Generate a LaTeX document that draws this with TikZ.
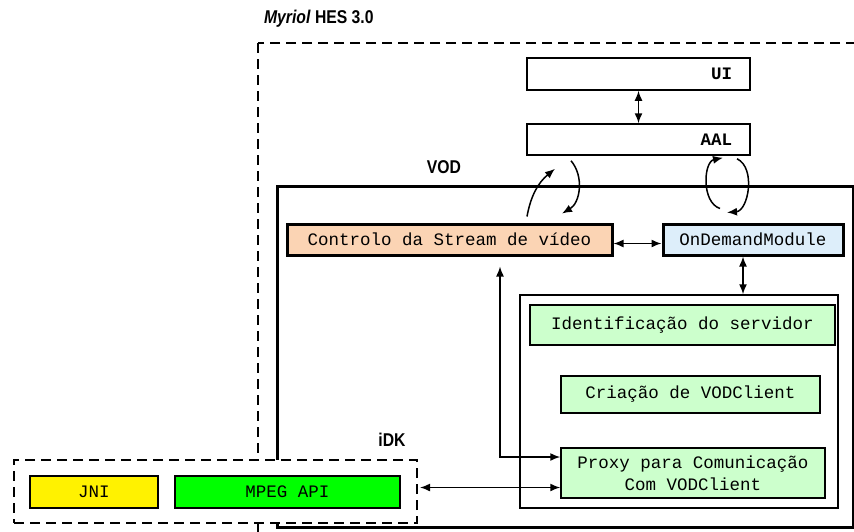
\documentclass[tikz,border=0pt]{standalone}
\usepackage{fontspec}
\setmonofont{Liberation Mono}
\newfontfamily\labelfont[FakeStretch=0.85]{Liberation Sans}
\usepackage{tikz}
\usetikzlibrary{arrows.meta}

\definecolor{ctrlfill}{RGB}{251,212,180}
\definecolor{odmfill}{RGB}{221,238,250}
\definecolor{srvfill}{RGB}{204,255,204}

\tikzset{
    box/.style={draw, line width=1.5pt, inner sep=0pt, align=center,
        font=\ttfamily\fontsize{17.5}{22}\selectfont},
    thickbox/.style={box, line width=3pt},
    layer/.style={box, text width=187pt, inner xsep=18pt, align=right,
        font=\ttfamily\bfseries\fontsize{17.5}{22}\selectfont},
    frame/.style={draw, dash pattern=on 10pt off 6pt, line width=2pt},
    tag/.style={font=\labelfont\bfseries\fontsize{18.5}{22}\selectfont},
    link/.style={{Latex[length=10pt,width=8pt]}-{Latex[length=10pt,width=8pt]}},
    arrowto/.style={-{Latex[length=10pt,width=8pt]}}
}

\begin{document}
\begin{tikzpicture}[x=1pt, y=-1pt, line width=1.5pt]
    \useasboundingbox (0,0) rectangle (854,531);
    \clip (0,0) rectangle (854,531);

    \draw[frame] (258,43) rectangle (880,560);
    \draw[line width=3pt] (277,186) rectangle (853,527);

    \node (title) [tag, anchor=west] at (260,18.5) {\textit{Myriol} HES 3.0};
    \node (vod) [tag] at (444,167) {VOD};
    \node (idklabel) [tag] at (392,440) {iDK};

    \node (ui) [layer, minimum height=32pt] at (638.5,74) {UI};
    \node (aal) [layer, minimum height=31pt] at (638.5,139.5) {AAL};

    \node (ctrl) [thickbox, fill=ctrlfill, minimum width=325pt, minimum height=31pt] at (449.5,239.5) {Controlo da Stream de vídeo};
    \node (odm) [thickbox, fill=odmfill, minimum width=180pt, minimum height=31pt] at (753,239.5) {OnDemandModule};

    \node (srv) [box, minimum width=318pt, minimum height=213pt] at (679,401.5) {};
    \node (ident) [box, fill=srvfill, minimum width=305pt, minimum height=40pt] at (682.5,325) {Identificação do servidor};
    \node (criacao) [box, fill=srvfill, minimum width=259pt, minimum height=37pt] at (690.5,394.5) {Criação de VODClient};
    \node (proxy) [box, fill=srvfill, minimum width=264pt, minimum height=50pt] at (693,473) {Proxy para Comunicação\\Com VODClient};

    \node (idk) [frame, fill=white, minimum width=403pt, minimum height=63pt] at (215.5,491.5) {};
    \node (jni) [box, fill=yellow, minimum width=128pt, minimum height=32pt] at (94,492) {JNI};
    \node (mpeg) [box, fill=green, minimum width=225pt, minimum height=32pt] at (287.5,492) {MPEG API};

    \coordinate (odmport) at ([xshift=-10pt]odm.south);
    \coordinate (ctrlport) at ([xshift=50.5pt,yshift=-10pt]ctrl.south);
    \coordinate (idkport) at ([xshift=2pt,yshift=4pt]idk.east);

    \draw[link] (ui) -- (aal);
    \draw[link] ([yshift=-4pt]ctrl.east) -- ([yshift=-4pt]odm.west);
    \draw[link] (odmport) -- (odmport |- srv.north);
    \draw[link] (ctrlport) |- ([yshift=16pt]proxy.west);
    \draw[link] (idkport) -- (idkport -| proxy.west);

    \draw[arrowto] ([xshift=77.5pt,yshift=6pt]ctrl.north) to[bend left=20] ([xshift=-83.5pt,yshift=-13pt]aal.south);
    \draw[arrowto] ([xshift=-67.5pt,yshift=-5pt]aal.south) to[bend left=50] ([xshift=112.5pt,yshift=9pt]ctrl.north);
    \draw[arrowto] ([xshift=-33pt,yshift=14pt]odm.north) to[bend left=75] ([xshift=84.5pt,yshift=-2pt]aal.south);
    \draw[arrowto] ([xshift=98.5pt,yshift=-3pt]aal.south) to[bend left=75] ([xshift=-26pt,yshift=10pt]odm.north);
\end{tikzpicture}
\end{document}
